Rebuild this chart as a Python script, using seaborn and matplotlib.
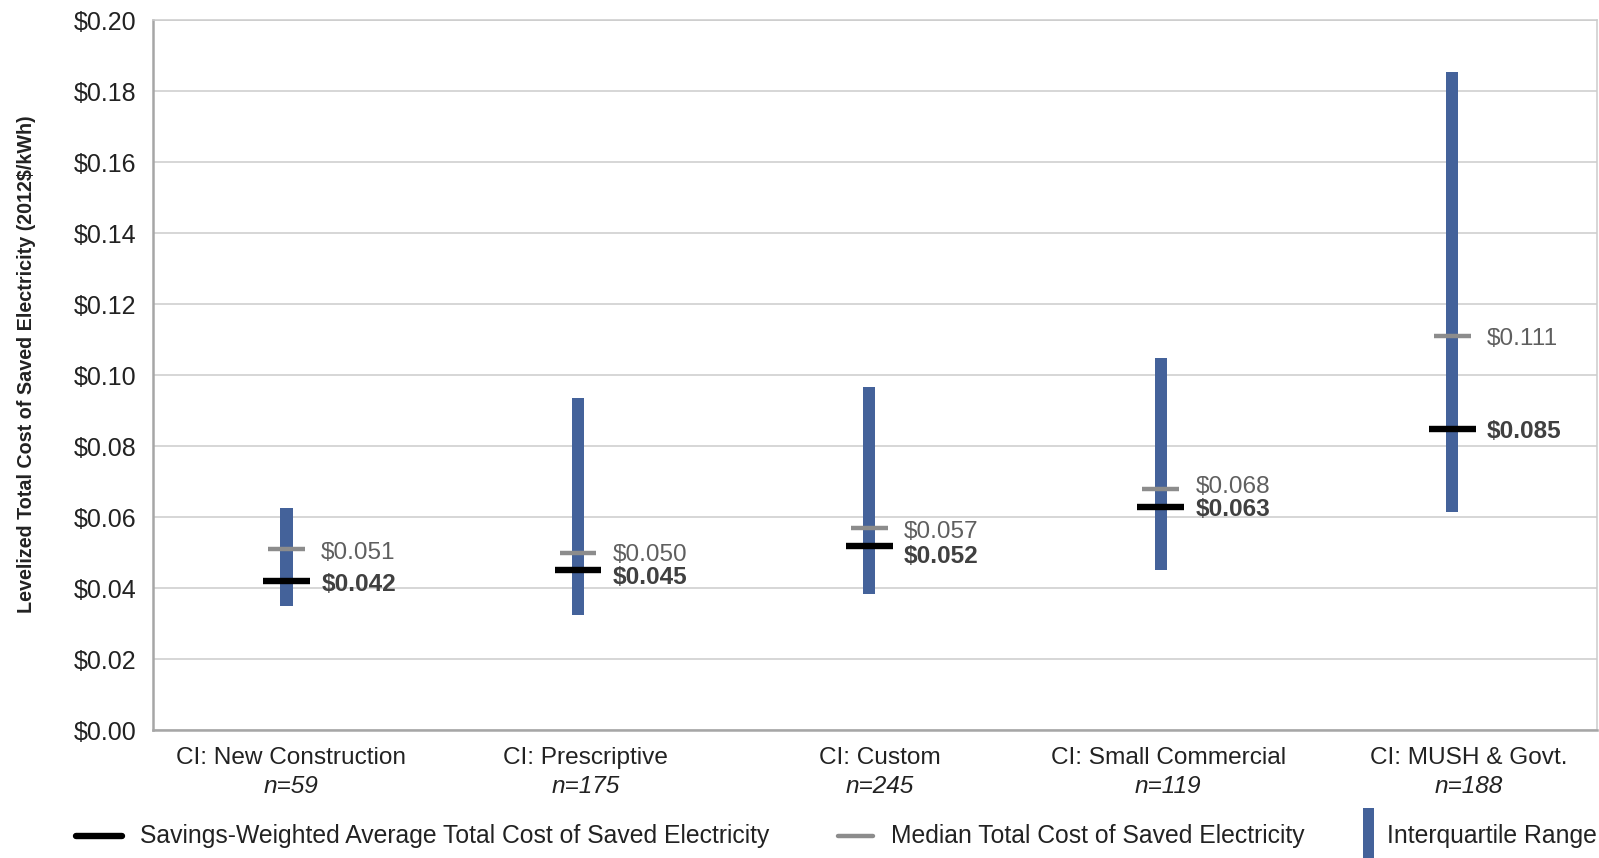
import numpy as np
import matplotlib
matplotlib.use("Agg")
import matplotlib.pyplot as plt
import matplotlib.transforms as mtransforms
from matplotlib.lines import Line2D
from matplotlib.patches import Rectangle
import seaborn as sns

# ---- data ----
categories = ["CI: New Construction", "CI: Prescriptive", "CI: Custom",
              "CI: Small Commercial", "CI: MUSH & Govt."]
n_labels = ["n=59", "n=175", "n=245", "n=119", "n=188"]
iqr_low = [0.035, 0.0325, 0.0385, 0.045, 0.0615]
iqr_high = [0.0627, 0.0935, 0.0967, 0.1048, 0.1855]
weighted_avg = [0.042, 0.045, 0.052, 0.063, 0.085]
median = [0.051, 0.050, 0.057, 0.068, 0.111]
yticks = [0.00, 0.02, 0.04, 0.06, 0.08, 0.10, 0.12, 0.14, 0.16, 0.18, 0.20]

sns.set_style("white")
plt.rcParams['font.family'] = ['Liberation Sans', 'DejaVu Sans']

BLUE = "#44629a"
GRAY = "#8c8c8c"
AXCOL = "#a6a6a6"
GRIDCOL = "#cccccc"
TXT = "#222222"
FS = 17.6

fig = plt.figure(figsize=(15.99, 8.58), dpi=100)
ax = fig.add_axes([0.0957, 0.149, 0.9031, 0.8272])

heights = np.array(iqr_high) - np.array(iqr_low)
sns.barplot(x=categories, y=heights, bottom=iqr_low, width=0.042,
            color=BLUE, saturation=1, ax=ax, zorder=3, linewidth=0)

xs = np.arange(len(categories))
ax.hlines(median, xs - 0.063, xs + 0.063, color=GRAY, linewidth=3.2, zorder=4)
ax.hlines(weighted_avg, xs - 0.08, xs + 0.08, color="black", linewidth=4.6, zorder=5)

# value labels (small vertical nudges in points to avoid overlap)
med_nudge = [-3, -1.5, -3, 1, -2]
avg_nudge = [-2.5, -5, -8, -2, -2]
for i in range(len(categories)):
    ax.annotate(f"${median[i]:.3f}", (xs[i], median[i]), xytext=(25, med_nudge[i]),
                textcoords="offset points", va="center", ha="left",
                fontsize=FS, color="#5f5f5f")
    ax.annotate(f"${weighted_avg[i]:.3f}", (xs[i], weighted_avg[i]), xytext=(25, avg_nudge[i]),
                textcoords="offset points", va="center", ha="left",
                fontsize=FS, color="#404040", fontweight="bold")

ax.set_xlim(-0.458, 4.497)
ax.set_ylim(0, 0.20)
ax.set_yticks(yticks)
ax.set_yticklabels([f"${v:.2f}" for v in yticks], fontsize=18, color=TXT)
ax.set_xticks(np.arange(1, len(categories)) - 0.475)
ax.set_xticklabels([])
ax.tick_params(axis="both", length=6, width=1.2, color=AXCOL, direction="out")
ax.tick_params(axis="y", pad=6)
ax.yaxis.grid(True, color=GRIDCOL, linewidth=1.1, zorder=0)
ax.xaxis.grid(False)
ax.set_axisbelow(True)
for side in ["left", "bottom"]:
    ax.spines[side].set_color(AXCOL)
    ax.spines[side].set_linewidth(1.8)
for side in ["right", "top"]:
    ax.spines[side].set_color(GRIDCOL)
    ax.spines[side].set_linewidth(1.1)
ax.set_xlabel("")
ax.set_ylabel("")

ax.text(-0.0875, 0.516, "Levelized Total Cost of Saved Electricity (2012$/kWh)",
        transform=ax.transAxes, rotation=90, ha="center", va="center",
        fontsize=14.2, fontweight="bold", color=TXT)

label_shift = [0.0, 0.0, 0.0, -0.02, 0.0]
trans = mtransforms.blended_transform_factory(ax.transData, ax.transAxes)
for i, (c, n) in enumerate(zip(categories, n_labels)):
    lx = xs[i] * 1.01 + 0.015 + label_shift[i]
    ax.text(lx, -0.024, c, transform=trans, ha="center", va="top",
            fontsize=FS, color=TXT)
    ax.text(lx, -0.0625, n, transform=trans, ha="center", va="top",
            fontsize=FS, color=TXT, style="italic")

# legend (drawn manually in figure pixels)
W, H = 1599, 858
def fx(px):
    return px / W
def fy(py):
    return 1 - py / H
LY = 835.5
LFS = 17.8
fig.add_artist(Line2D([fx(76), fx(122)], [fy(LY), fy(LY)], color="black", linewidth=4.6))
fig.text(fx(140), fy(LY), "Savings-Weighted Average Total Cost of Saved Electricity",
         fontsize=LFS, color=TXT, va="center", ha="left")
fig.add_artist(Line2D([fx(838), fx(873)], [fy(LY), fy(LY)], color=GRAY, linewidth=3.2))
fig.text(fx(891), fy(LY), "Median Total Cost of Saved Electricity",
         fontsize=LFS, color=TXT, va="center", ha="left")
fig.add_artist(Rectangle((fx(1363), fy(860)), fx(11), fy(808) - fy(860),
                         transform=fig.transFigure, color=BLUE, linewidth=0))
fig.text(fx(1387), fy(LY), "Interquartile Range",
         fontsize=LFS, color=TXT, va="center", ha="left")

fig.savefig("out.png", dpi=100)
